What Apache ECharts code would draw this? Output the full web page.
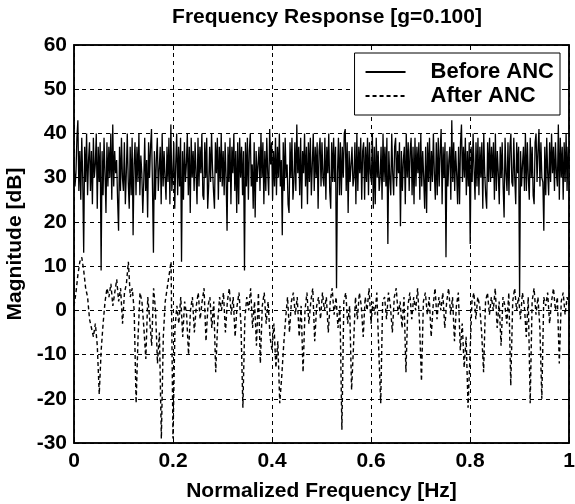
<!DOCTYPE html>
<html>
<head>
<meta charset="utf-8">
<script src="https://cdn.jsdelivr.net/npm/echarts@6/dist/echarts.min.js"></script>
<style>html,body{margin:0;padding:0;background:#fff}#c{width:575px;height:504px}</style>
</head>
<body>
<div id="c"></div>
<script>
const xTicks = [0, 0.2, 0.4, 0.6, 0.8, 1];
const yTicks = [-30, -20, -10, 0, 10, 20, 30, 40, 50, 60];
const seriesNames = ['Before ANC', 'After ANC'];

// Magnitude [dB] before ANC, 512 bins over normalized frequency 0..1
const beforeANC = [
  34, 28, 31, 39, 43, 27, 36, 25, 39, 30, 13, 37, 29, 40, 26, 34,
  38, 27, 36, 24, 39, 30, 33, 40, 23, 37, 29, 38, 9, 36, 26, 39,
  31, 22, 38, 28, 37, 30, 40, 25, 42, 28, 36, 31, 34, 25, 18, 37,
  27, 39, 30, 27, 38, 24, 31, 40, 29, 23, 37, 26, 39, 17, 33, 38,
  26, 37, 29, 40, 26, 35, 31, 22, 29, 39, 27, 34, 21, 38, 30, 37,
  41, 28, 13, 36, 25, 34, 39, 27, 32, 37, 24, 40, 28, 36, 30, 25,
  37, 29, 39, 24, 42, 27, 31, 38, 23, 33, 40, 26, 37, 28, 39, 11,
  36, 25, 38, 29, 33, 40, 26, 37, 22, 39, 30, 36, 27, 38, 31, 24,
  39, 28, 37, 31, 40, 26, 25, 38, 30, 39, 23, 28, 37, 29, 40, 32,
  27, 23, 38, 31, 39, 25, 37, 29, 40, 28, 36, 26, 38, 30, 18, 37,
  29, 39, 24, 37, 31, 40, 27, 36, 22, 38, 24, 39, 30, 37, 26, 36,
  9, 38, 28, 39, 25, 36, 40, 28, 33, 23, 38, 21, 36, 29, 33, 37,
  27, 40, 30, 38, 24, 36, 27, 39, 31, 26, 41, 33, 38, 25, 36, 28,
  39, 26, 37, 30, 40, 28, 34, 17, 38, 27, 39, 30, 33, 24, 22, 38,
  30, 39, 25, 29, 38, 27, 42, 31, 37, 26, 39, 23, 36, 31, 40, 28,
  37, 24, 38, 29, 39, 26, 33, 40, 27, 37, 30, 38, 23, 36, 39, 28,
  38, 30, 28, 39, 25, 37, 31, 40, 27, 23, 38, 29, 39, 29, 37, 5,
  31, 39, 26, 38, 26, 37, 30, 40, 41, 27, 38, 22, 36, 29, 33, 37,
  28, 30, 38, 24, 40, 27, 37, 31, 39, 25, 36, 38, 25, 37, 29, 39,
  26, 38, 31, 29, 40, 23, 37, 24, 39, 30, 36, 27, 30, 37, 25, 40,
  29, 37, 28, 39, 15, 36, 30, 26, 40, 31, 26, 37, 39, 28, 36, 31,
  38, 19, 36, 27, 34, 37, 24, 40, 30, 38, 27, 36, 39, 26, 37, 24,
  39, 28, 37, 31, 38, 25, 40, 28, 36, 30, 23, 37, 22, 38, 29, 39,
  27, 36, 29, 40, 31, 25, 38, 26, 39, 28, 36, 41, 24, 37, 30, 38,
  12, 36, 28, 34, 37, 25, 43, 29, 38, 27, 36, 31, 24, 37, 24, 38,
  42, 29, 37, 30, 39, 26, 36, 28, 38, 15, 37, 29, 40, 32, 25, 38,
  28, 39, 26, 37, 30, 38, 23, 40, 31, 26, 23, 38, 29, 39, 29, 37,
  30, 38, 25, 40, 27, 36, 31, 24, 37, 30, 38, 28, 21, 39, 31, 27,
  38, 26, 37, 40, 29, 28, 39, 30, 24, 38, 31, 37, 3, 36, 28, 33,
  37, 27, 40, 27, 38, 30, 25, 39, 30, 37, 26, 24, 38, 40, 29, 36,
  41, 28, 38, 30, 29, 18, 37, 26, 39, 31, 26, 38, 29, 40, 31, 37,
  27, 38, 31, 28, 42, 25, 39, 30, 37, 25, 38, 29, 40, 27, 37, 32
];

// Magnitude [dB] after ANC, 256 bins over normalized frequency 0..1
const afterANC = [
  1, 4, 8, 11, 12, 9, 5, 3, -2, -4, -6, -3, -8, -19, -9, -3,
  2, 5, 3, 6, 1, 4, 7, 2, 5, -3, 4, 6, 11, 3, 5, 0,
  -21, -6, 4, 2, -4, -11, 3, -2, -8, 5, 0, -12, -5, -29, -6, 2,
  5, 8, 11, -29, -4, 1, -3, 3, -6, 2, -1, -10, 0, 3, -5, 1,
  4, -2, 2, 5, -7, 1, 3, -4, 2, -14, -3, 3, 0, 4, -5, 2,
  5, -1, 3, -6, 1, 4, -3, -22, -2, 3, 0, 5, -4, 2, -8, 4,
  -12, 1, 4, -3, 2, -6, -9, -3, -13, -7, -21, -15, -8, -2, 3, -5,
  2, 4, -1, 3, -6, 1, -14, 0, 4, -3, 2, 5, -7, 1, 3, -2,
  4, 0, 3, -5, 2, 5, -1, 3, -4, 1, -27, 2, 4, -3, 1, -18,
  -8, 3, -2, 4, 1, -6, 3, 0, 5, -3, 2, -1, 4, -9, -21, 2,
  3, -2, 4, 1, -5, 3, 5, -1, 2, -4, 3, -14, 1, 4, -2, 3,
  0, 5, -3, -16, 2, 4, -1, 3, -6, 1, 5, -2, 3, 0, 4, -4,
  2, 5, -1, 3, -7, 1, 4, -9, -3, -13, -6, -22, -10, 2, 4, -2,
  3, 1, -5, -14, 2, 4, -1, 3, 0, 5, -4, 2, -8, 3, 1, -3,
  4, -17, 2, 5, 0, 3, -2, 4, 1, -6, 3, -21, 2, 5, -1, 3,
  -4, -20, 3, 1, 4, -3, 2, 5, 0, 3, -12, 2, 4, -1, 3, 1
];

// place each bin on the normalized frequency axis (linspace 0..1)
const pairs = arr => arr.map((v, i) => [i / (arr.length - 1), v]);
const FONT = '"Liberation Sans", Arial, Helvetica, sans-serif';

const chart = echarts.init(document.getElementById('c'), null, {renderer: 'canvas'});
const axisCommon = {
  axisLine: {show: true, onZero: false, lineStyle: {color: '#000', width: 1.5}},
  axisTick: {show: true, inside: true, length: 5, lineStyle: {color: '#000', width: 1}},
};
chart.setOption({
  animation: false,
  backgroundColor: '#fff',
  title: {
    text: 'Frequency Response [g=0.100]',
    left: 322, textAlign: 'center', top: 2,
    textStyle: {fontFamily: FONT, fontWeight: 'bold', fontSize: 21, color: '#000'}
  },
  grid: {left: 74, right: 6, top: 45, bottom: 61, show: true, borderColor: '#000', borderWidth: 1.5,
    containLabel: false, outerBoundsMode: 'none'},
  legend: {
    data: seriesNames,
    orient: 'vertical', right: 15, top: 53,
    backgroundColor: '#fff', borderColor: '#000', borderWidth: 1,
    padding: [8, 6, 8, 10], itemGap: 2, itemWidth: 40, itemHeight: 20,
    align: 'left',
    itemStyle: {opacity: 0},
    textStyle: {fontFamily: FONT, fontWeight: 'bold', fontSize: 22, color: '#000', padding: [0, 0, 0, 20]}
  },
  xAxis: [{
    type: 'value', min: xTicks[0], max: xTicks[xTicks.length - 1], interval: 0.2,
    ...axisCommon,
    axisLabel: {fontFamily: FONT, fontWeight: 'bold', fontSize: 21, color: '#000', margin: 8,
      formatter: v => String(+v.toFixed(1))},
    splitLine: {show: true, lineStyle: {color: '#000', type: [4, 4], width: 1}},
    name: 'Normalized Frequency [Hz]', nameLocation: 'middle', nameGap: 38,
    nameTextStyle: {fontFamily: FONT, fontWeight: 'bold', fontSize: 21, color: '#000'}
  }, {
    type: 'value', position: 'top', min: xTicks[0], max: xTicks[xTicks.length - 1], interval: 0.2,
    ...axisCommon, axisLabel: {show: false}, splitLine: {show: false}
  }],
  yAxis: [{
    type: 'value', min: yTicks[0], max: yTicks[yTicks.length - 1], interval: 10,
    ...axisCommon,
    axisLabel: {fontFamily: FONT, fontWeight: 'bold', fontSize: 21, color: '#000', margin: 7},
    splitLine: {show: true, lineStyle: {color: '#000', type: [4, 4], width: 1}},
    name: 'Magnitude [dB]', nameLocation: 'middle', nameGap: 48,
    nameTextStyle: {fontFamily: FONT, fontWeight: 'bold', fontSize: 21, color: '#000'}
  }, {
    type: 'value', position: 'right', min: yTicks[0], max: yTicks[yTicks.length - 1], interval: 10,
    ...axisCommon, axisLabel: {show: false}, splitLine: {show: false}
  }],
  series: [{
    name: seriesNames[0], type: 'line', data: pairs(beforeANC),
    showSymbol: false, symbol: 'none', z: 3,
    lineStyle: {color: '#000', width: 1.3, type: 'solid'},
    itemStyle: {color: '#000'}
  }, {
    name: seriesNames[1], type: 'line', data: pairs(afterANC),
    showSymbol: false, symbol: 'none', z: 2,
    lineStyle: {color: '#000', width: 1.4, type: [4, 3]},
    itemStyle: {color: '#000'}
  }]
});
</script>
</body>
</html>
